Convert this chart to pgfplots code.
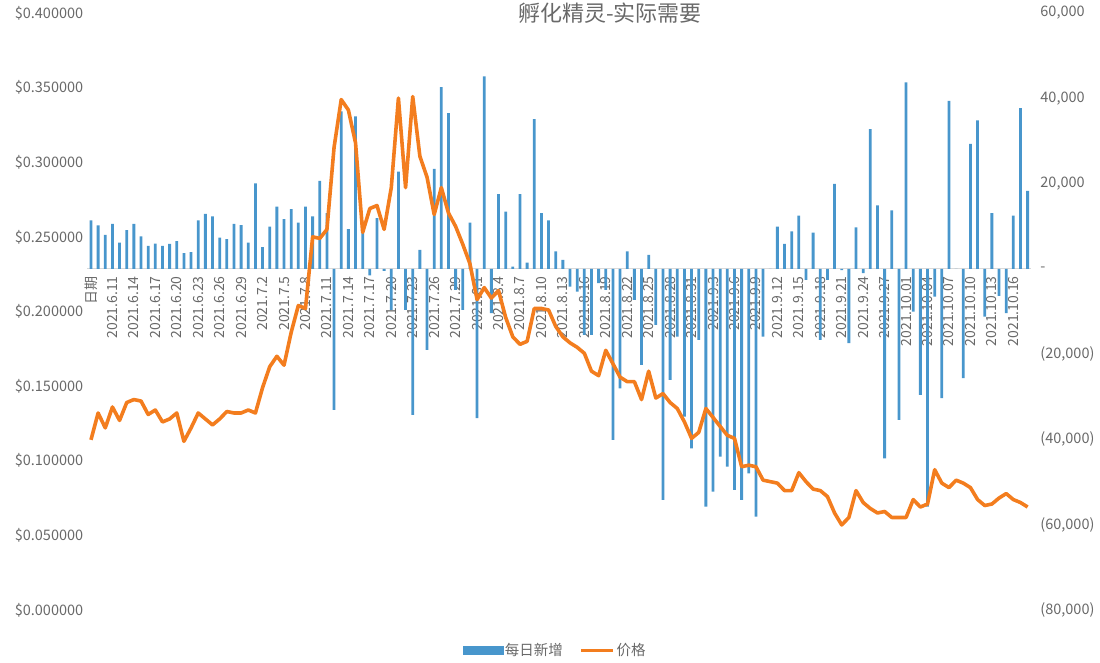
\documentclass[border=0pt]{standalone}
\usepackage{pgfplots}
\pgfplotsset{compat=1.18}
\usepackage{pgfplotstable}
\usepackage{fontspec}
\setmainfont{Noto Sans CJK SC}
\definecolor{barblue}{RGB}{72,150,204}
\definecolor{lineorange}{RGB}{243,125,30}
\definecolor{textgray}{RGB}{105,105,105}
\definecolor{axisgray}{RGB}{217,217,217}

\pgfplotstableread{
i v
0 11340
1 10170
2 7980
3 10560
4 6180
5 9070
6 10560
7 7590
8 5400
9 5940
10 5400
11 5870
12 6490
13 3680
14 3910
15 11340
16 12900
17 12280
18 7350
19 6960
20 10560
21 10240
22 6180
23 20020
24 5080
25 9930
26 14620
27 11650
28 14000
29 10870
30 14620
31 12280
32 20640
33 13060
34 -33080
35 36910
36 9310
37 35740
38 8370
39 -1500
40 11890
41 -500
42 -9620
43 22830
44 -9620
45 -34250
46 4460
47 -19000
48 23460
49 42620
50 36520
51 -4930
52 -9620
53 10870
54 -35030
55 45120
56 -10400
57 17520
58 13450
59 550
60 17520
61 1490
62 35110
63 13060
64 11340
65 4070
66 2110
67 -4140
68 -5320
69 -15480
70 -15480
71 -3360
72 -4930
73 -40120
74 -28000
75 4070
76 -7270
77 -22520
78 3280
79 -13140
80 -54190
81 -26040
82 -15870
83 -34640
84 -42070
85 -16660
86 -55760
87 -52240
88 -44020
89 -46370
90 -51850
91 -54190
92 -47940
93 -58100
94 -15870
95 0
96 9930
97 5870
98 8760
99 12510
100 -2580
101 8520
102 -16660
103 -2580
104 19940
105 -300
106 -17440
107 9700
108 -1020
109 32770
110 14860
111 -44420
112 13690
113 -35420
114 43710
115 -10010
116 -29560
117 -55760
118 -6490
119 -30340
120 39410
121 0
122 -25650
123 29330
124 34800
125 -11180
126 13060
127 -6330
128 -10400
129 12510
130 37690
131 18300
}\bardata

\pgfplotstableread{
i p
0 0.114
1 0.132
2 0.122
3 0.136
4 0.127
5 0.139
6 0.141
7 0.140
8 0.131
9 0.134
10 0.126
11 0.128
12 0.132
13 0.113
14 0.122
15 0.132
16 0.128
17 0.124
18 0.128
19 0.133
20 0.132
21 0.132
22 0.134
23 0.132
24 0.149
25 0.163
26 0.170
27 0.164
28 0.186
29 0.204
30 0.202
31 0.250
32 0.249
33 0.255
34 0.310
35 0.342
36 0.335
37 0.313
38 0.253
39 0.269
40 0.271
41 0.255
42 0.283
43 0.343
44 0.283
45 0.344
46 0.304
47 0.290
48 0.265
49 0.283
50 0.266
51 0.257
52 0.245
53 0.232
54 0.208
55 0.216
56 0.209
57 0.214
58 0.196
59 0.183
60 0.178
61 0.180
62 0.202
63 0.202
64 0.201
65 0.190
66 0.183
67 0.179
68 0.176
69 0.172
70 0.160
71 0.157
72 0.174
73 0.165
74 0.156
75 0.153
76 0.153
77 0.141
78 0.160
79 0.142
80 0.145
81 0.139
82 0.135
83 0.126
84 0.115
85 0.119
86 0.135
87 0.129
88 0.123
89 0.117
90 0.115
91 0.096
92 0.097
93 0.096
94 0.087
95 0.086
96 0.085
97 0.080
98 0.080
99 0.092
100 0.086
101 0.081
102 0.080
103 0.076
104 0.065
105 0.057
106 0.062
107 0.080
108 0.072
109 0.068
110 0.065
111 0.066
112 0.062
113 0.062
114 0.062
115 0.074
116 0.069
117 0.071
118 0.094
119 0.085
120 0.082
121 0.087
122 0.085
123 0.082
124 0.074
125 0.070
126 0.071
127 0.075
128 0.078
129 0.074
130 0.072
131 0.069
}\linedata

\begin{document}
\begin{tikzpicture}[x=1pt,y=1pt]
\path[use as bounding box] (0,0) rectangle (1100,663);
% bars on the right-hand axis
\begin{axis}[
  at={(87.4pt,53pt)}, anchor=south west, scale only axis,
  width=943.8pt, height=597pt,
  xmin=-0.5, xmax=131.5, ymin=-80000, ymax=60000,
  axis y line*=right, axis x line*=middle,
  y axis line style={draw=none},
  x axis line style={draw=axisgray, line width=0.8pt},
  xtick={0,3,...,129},
  xticklabels={日期,2021.6.11,2021.6.14,2021.6.17,2021.6.20,2021.6.23,2021.6.26,2021.6.29,2021.7.2,2021.7.5,2021.7.8,2021.7.11,2021.7.14,2021.7.17,2021.7.20,2021.7.23,2021.7.26,2021.7.29,2021.8.1,2021.8.4,2021.8.7,2021.8.10,2021.8.13,2021.8.16,2021.8.19,2021.8.22,2021.8.25,2021.8.28,2021.8.31,2021.9.3,2021.9.6,2021.9.9,2021.9.12,2021.9.15,2021.9.18,2021.9.21,2021.9.24,2021.9.27,2021.10.01,2021.10.04,2021.10.07,2021.10.10,2021.10.13,2021.10.16},
  xtick style={draw=none}, ytick style={draw=none},
  ytick={-80000,-60000,-40000,-20000,0,20000,40000,60000},
  yticklabels={{(80,000)},{(60,000)},{(40,000)},{(20,000)},{-},{20,000},{40,000},{60,000}},
  xticklabel style={rotate=90, anchor=east, font=\fontsize{14}{16}\selectfont, text=textgray, inner sep=3pt},
  yticklabel style={anchor=west, font=\fontsize{14.5}{17}\selectfont, text=textgray, xshift=8pt, inner sep=1pt},
  ybar, bar width=2.8pt,
  clip=false,
]
\addplot[fill=barblue, draw=none] table[x=i, y=v] {\bardata};
\end{axis}
% price line on the left-hand axis
\begin{axis}[
  at={(87.4pt,53pt)}, anchor=south west, scale only axis,
  width=943.8pt, height=597pt,
  xmin=-0.5, xmax=131.5, ymin=0, ymax=0.4,
  axis y line*=left, hide x axis,
  y axis line style={draw=none}, ytick style={draw=none},
  ytick={0,0.05,0.1,0.15,0.2,0.25,0.3,0.35,0.4},
  yticklabels={\$0.000000,\$0.050000,\$0.100000,\$0.150000,\$0.200000,\$0.250000,\$0.300000,\$0.350000,\$0.400000},
  yticklabel style={font=\fontsize{14.5}{17}\selectfont, text=textgray, inner sep=1pt, xshift=-3pt},
  legend style={at={(0.4955,-0.068)}, anchor=center, draw=none, fill=none,
    legend columns=2, font=\fontsize{14.5}{17}\selectfont, text=textgray,
    /tikz/every even column/.append style={column sep=14pt}},
  clip=false,
]
\addlegendimage{legend image code/.code={\fill[barblue] (0pt,-4pt) rectangle (40pt,4pt);}}
\addlegendentry{每日新增}
\addplot[color=lineorange, line width=3.6pt, line join=round, mark=none,
  legend image code/.code={\draw[lineorange, line width=3.6pt] (0pt,0pt) -- (32pt,0pt);}]
  table[x=i, y=p] {\linedata};
\addlegendentry{价格}
\end{axis}
\node[font=\fontsize{22}{26}\selectfont, text=textgray, inner sep=0pt, anchor=north] at (610pt,660pt) {孵化精灵-实际需要};
\end{tikzpicture}
\end{document}
